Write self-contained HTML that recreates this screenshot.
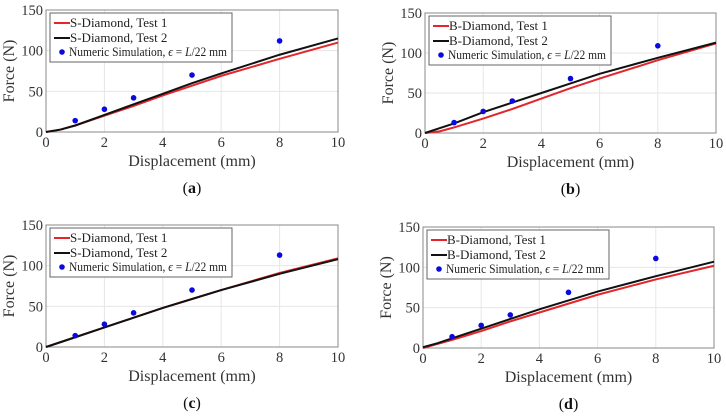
<!DOCTYPE html>
<html><head><meta charset="utf-8"><style>
body{margin:0;background:#fff;width:726px;height:419px;overflow:hidden}
svg{display:block;font-family:"Liberation Serif",serif}
</style></head><body>
<svg id="c" width="726" height="419"></svg>
<script>
const xTicks=[0,2,4,6,8,10];
const yTicks=[0,50,100,150];
const simX=[1,2,3,5,8];
const simA=[14,28,42,70,112];
const simB=[13,27,40,68,109];
const simC=[14,28,42,70,113];
const simD=[14,28,41,69,111];
const curveX=[0,0.5,1,2,3,4,5,6,8,10];
const aT1=[0,3,8,20,32,45,57,69,90,110];
const aT2=[0,3,8,21,34,47,60,72,95,115];
const bT1=[0,2,7,18,30,43,56,68,91,112];
const bT2=[0,6,12,26,38,50,62,74,94,113];
const cT1=[0,6,12,24,36,48,59,70,91,109];
const cT2=[0,6,12,24,36,48,59,70,90,108];
const dT1=[0,5,10,21,33,44,55,66,85,102];
const dT2=[1,6,12,24,36,48,59,70,89,107];
const panels=[
 {id:'a',x0:46,x1:338,y0:132,y1:10,t1:aT1,t2:aT2,sim:simA,name:'S-Diamond'},
 {id:'b',x0:425,x1:716,y0:133,y1:13,t1:bT1,t2:bT2,sim:simB,name:'B-Diamond'},
 {id:'c',x0:46,x1:338,y0:347,y1:225,t1:cT1,t2:cT2,sim:simC,name:'S-Diamond'},
 {id:'d',x0:423,x1:714,y0:348,y1:227,t1:dT1,t2:dT2,sim:simD,name:'B-Diamond'}
];
const svg=document.getElementById('c');
const NS='http://www.w3.org/2000/svg';
function mk(tag,attrs,parent,txt){const e=document.createElementNS(NS,tag);for(const k in attrs)e.setAttribute(k,attrs[k]);if(txt!==undefined)e.textContent=txt;parent.appendChild(e);return e;}
panels.forEach(p=>{
 const g=mk('g',{},svg);
 
 
 const sx=v=>p.x0+(v/10)*(p.x1-p.x0);
 const sy=v=>p.y0+(v/150)*(p.y1-p.y0);
 xTicks.forEach(t=>{mk('line',{x1:sx(t),x2:sx(t),y1:p.y0,y2:p.y1,stroke:'#e6e6e6','stroke-width':1},g);
  const l=mk('text',{x:sx(t),y:p.y0+15,'text-anchor':'middle','font-size':14.5,fill:'#333'},g,t);
  });
 yTicks.forEach(t=>{mk('line',{x1:p.x0,x2:p.x1,y1:sy(t),y2:sy(t),stroke:'#e6e6e6','stroke-width':1},g);
  const l=mk('text',{x:p.x0-3,y:sy(t)+5,'text-anchor':'end','font-size':14.5,fill:'#333'},g,t);
  });
 const fr=mk('rect',{x:p.x0,y:p.y1,width:p.x1-p.x0,height:p.y0-p.y1,fill:'none',stroke:'#888','stroke-width':1},g);
 
 const pts=a=>curveX.map((x,i)=>sx(x)+','+sy(a[i])).join(' ');
 const l1=mk('polyline',{points:pts(p.t1),fill:'none',stroke:'#e3262b','stroke-width':2},g);
 
 const l2=mk('polyline',{points:pts(p.t2),fill:'none',stroke:'#111','stroke-width':2},g);
 
 simX.forEach((x,i)=>{const c=mk('circle',{cx:sx(x),cy:sy(p.sim[i]),r:2.8,fill:'#0a0ae0'},g);
  });
 const lx=p.x0+4,ly=p.y1+3;
 const lg=mk('g',{},g);
 
 mk('rect',{x:lx,y:ly,width:182,height:49,fill:'#fff',stroke:'#666','stroke-width':1},lg);
 mk('line',{x1:lx+4,x2:lx+20,y1:ly+10,y2:ly+10,stroke:'#e3262b','stroke-width':2},lg);
 mk('text',{x:lx+20,y:ly+14,'font-size':13,fill:'#222'},lg,p.name+', Test 1');
 mk('line',{x1:lx+4,x2:lx+20,y1:ly+25,y2:ly+25,stroke:'#111','stroke-width':2},lg);
 mk('text',{x:lx+20,y:ly+29,'font-size':13,fill:'#222'},lg,p.name+', Test 2');
 mk('circle',{cx:lx+12,cy:ly+39,r:2.8,fill:'#0a0ae0'},lg);
 const t=mk('text',{x:lx+19,y:ly+43,'font-size':12.5,fill:'#222',textLength:158,lengthAdjust:'spacingAndGlyphs'},lg);
 t.innerHTML='Numeric Simulation, <tspan font-style="italic">ϵ</tspan> = <tspan font-style="italic">L</tspan>/22 mm';
 const xl=mk('text',{x:(p.x0+p.x1)/2,y:p.y0+34,'text-anchor':'middle','font-size':16,fill:'#333'},g,'Displacement (mm)');
 
 const yx=p.x0-32,yy=(p.y0+p.y1)/2;
 const yl=mk('text',{x:yx,y:yy,'text-anchor':'middle','font-size':16,fill:'#333',transform:`rotate(-90 ${yx} ${yy})`},g,'Force  (N)');
 
 const cap=mk('text',{x:(p.x0+p.x1)/2,y:p.y0+61,'text-anchor':'middle','font-size':16,fill:'#111'},g);
 cap.innerHTML='(<tspan font-weight="bold">'+p.id+'</tspan>)';
 
});
</script>
</body></html>
